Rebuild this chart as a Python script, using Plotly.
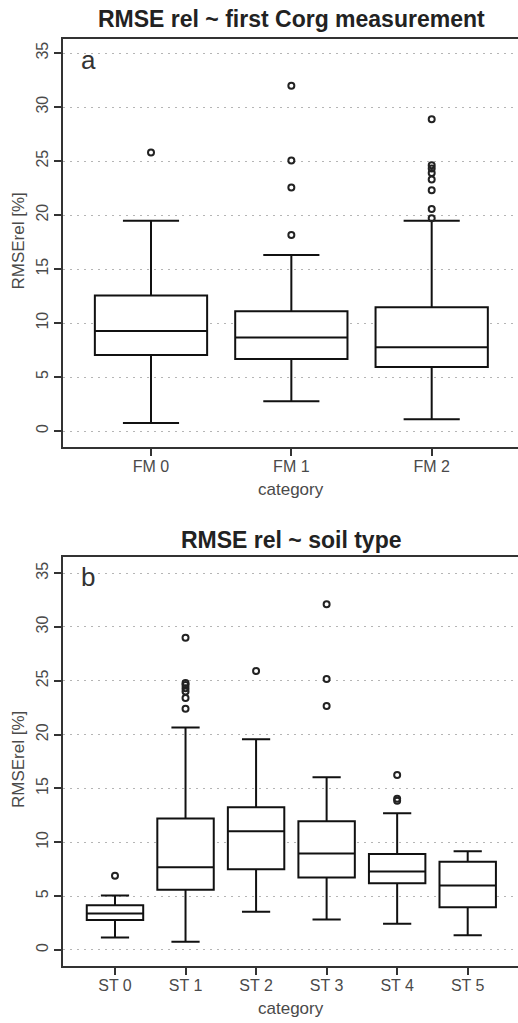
import plotly.graph_objects as go

# ---------------- data ----------------
fm_cats = ["FM 0", "FM 1", "FM 2"]
fm_q1 = [7.04, 6.67, 5.93]
fm_median = [9.26, 8.67, 7.75]
fm_q3 = [12.56, 11.10, 11.45]
fm_lower = [0.74, 2.75, 1.08]
fm_upper = [19.47, 16.30, 19.47]
fm_out_cat = ["FM 0", "FM 1", "FM 1", "FM 1", "FM 1",
              "FM 2", "FM 2", "FM 2", "FM 2", "FM 2", "FM 2", "FM 2", "FM 2"]
fm_out_val = [25.8, 31.97, 25.06, 22.56, 18.15,
              28.86, 24.6, 24.3, 23.9, 23.3, 22.3, 20.55, 19.7]

st_cats = ["ST 0", "ST 1", "ST 2", "ST 3", "ST 4", "ST 5"]
st_q1 = [2.79, 5.60, 7.50, 6.72, 6.20, 3.97]
st_median = [3.38, 7.68, 11.03, 8.95, 7.28, 5.98]
st_q3 = [4.15, 12.20, 13.26, 11.96, 8.92, 8.20]
st_lower = [1.15, 0.77, 3.56, 2.82, 2.44, 1.37]
st_upper = [5.05, 20.66, 19.58, 16.05, 12.70, 9.17]
st_out_cat = ["ST 0", "ST 1", "ST 1", "ST 1", "ST 1", "ST 1", "ST 1", "ST 1",
              "ST 2", "ST 3", "ST 3", "ST 3", "ST 4", "ST 4", "ST 4"]
st_out_val = [6.9, 29.0, 24.8, 24.6, 24.3, 24.0, 23.4, 22.4,
              25.9, 32.1, 25.16, 22.65, 16.24, 14.05, 13.85]

y_ticks = [0, 5, 10, 15, 20, 25, 30, 35]

# ---------------- figure ----------------
W, H = 518, 1023
ML = 63
PW = W - ML
FONT = "Liberation Sans"
TICKC = "#4a4a4a"
LINEC = "#333333"

fig = go.Figure()

box_style = dict(width=0.8, whiskerwidth=0.5, fillcolor="white",
                 line=dict(color="#111111", width=2), boxpoints=False,
                 showlegend=False, hoverinfo="skip")
out_style = dict(mode="markers", showlegend=False, hoverinfo="skip",
                 marker=dict(symbol="circle-open", size=6, color="#222222",
                             line=dict(width=2, color="#222222")))

fig.add_trace(go.Box(x=fm_cats, q1=fm_q1, median=fm_median, q3=fm_q3,
                     lowerfence=fm_lower, upperfence=fm_upper,
                     xaxis="x", yaxis="y", **box_style))
fig.add_trace(go.Scatter(x=fm_out_cat, y=fm_out_val, xaxis="x", yaxis="y", **out_style))

fig.add_trace(go.Box(x=st_cats, q1=st_q1, median=st_median, q3=st_q3,
                     lowerfence=st_lower, upperfence=st_upper,
                     xaxis="x2", yaxis="y2", **box_style))
fig.add_trace(go.Scatter(x=st_out_cat, y=st_out_val, xaxis="x2", yaxis="y2", **out_style))


def py(p):
    return 1 - p / H


def px(p):
    return (p - ML) / PW


xax = dict(type="category", showline=True, linecolor=LINEC, linewidth=2, mirror=True,
           ticks="outside", ticklen=7, tickwidth=2, tickcolor=LINEC,
           ticklabelstandoff=-3,
           showgrid=False, zeroline=False,
           tickfont=dict(family=FONT, size=16, color=TICKC))
yax = dict(showline=True, linecolor=LINEC, linewidth=2, mirror=False,
           ticks="outside", ticklen=7, tickwidth=2, tickcolor=LINEC,
           tickmode="array", tickvals=y_ticks, tickangle=-90,
           showgrid=True, gridcolor="#b5b5b5", gridwidth=1, griddash="2px,5px",
           zeroline=False,
           tickfont=dict(family=FONT, size=16, color=TICKC))

fig.update_layout(
    width=W, height=H,
    margin=dict(l=ML, r=0, t=0, b=0),
    paper_bgcolor="white", plot_bgcolor="white",
    xaxis=dict(xax, domain=[0, 1], anchor="y", categoryorder="array",
               categoryarray=fm_cats, range=[-0.627, 2.615]),
    yaxis=dict(yax, domain=[py(447), py(39)], anchor="x", range=[-1.48, 36.3]),
    xaxis2=dict(xax, domain=[0, 1], anchor="y2", categoryorder="array",
                categoryarray=st_cats, range=[-0.737, 5.713]),
    yaxis2=dict(yax, domain=[py(966), py(557)], anchor="x2", range=[-1.49, 36.5]),
)

ann = []
for title, yc in [("RMSE rel ~ first Corg measurement", 19), ("RMSE rel ~ soil type", 540)]:
    ann.append(dict(text="<b>" + title + "</b>", x=px(291), y=py(yc), xref="paper", yref="paper",
                    xanchor="center", yanchor="middle", showarrow=False,
                    font=dict(family=FONT, size=23, color="#222222")))
for yc in [241.5, 760]:
    ann.append(dict(text="RMSErel [%]", x=px(18), y=py(yc), xref="paper", yref="paper",
                    xanchor="center", yanchor="middle", showarrow=False, textangle=-90,
                    font=dict(family=FONT, size=17, color=TICKC)))
for yc in [489, 1008]:
    ann.append(dict(text="category", x=px(290.5), y=py(yc), xref="paper", yref="paper",
                    xanchor="center", yanchor="middle", showarrow=False,
                    font=dict(family=FONT, size=17, color=TICKC)))
for lab, yc in [("a", 60), ("b", 577)]:
    ann.append(dict(text=lab, x=px(88), y=py(yc), xref="paper", yref="paper",
                    xanchor="center", yanchor="middle", showarrow=False,
                    font=dict(family=FONT, size=26, color="#333333")))
fig.update_layout(annotations=ann)

fig.write_html("out.html")
